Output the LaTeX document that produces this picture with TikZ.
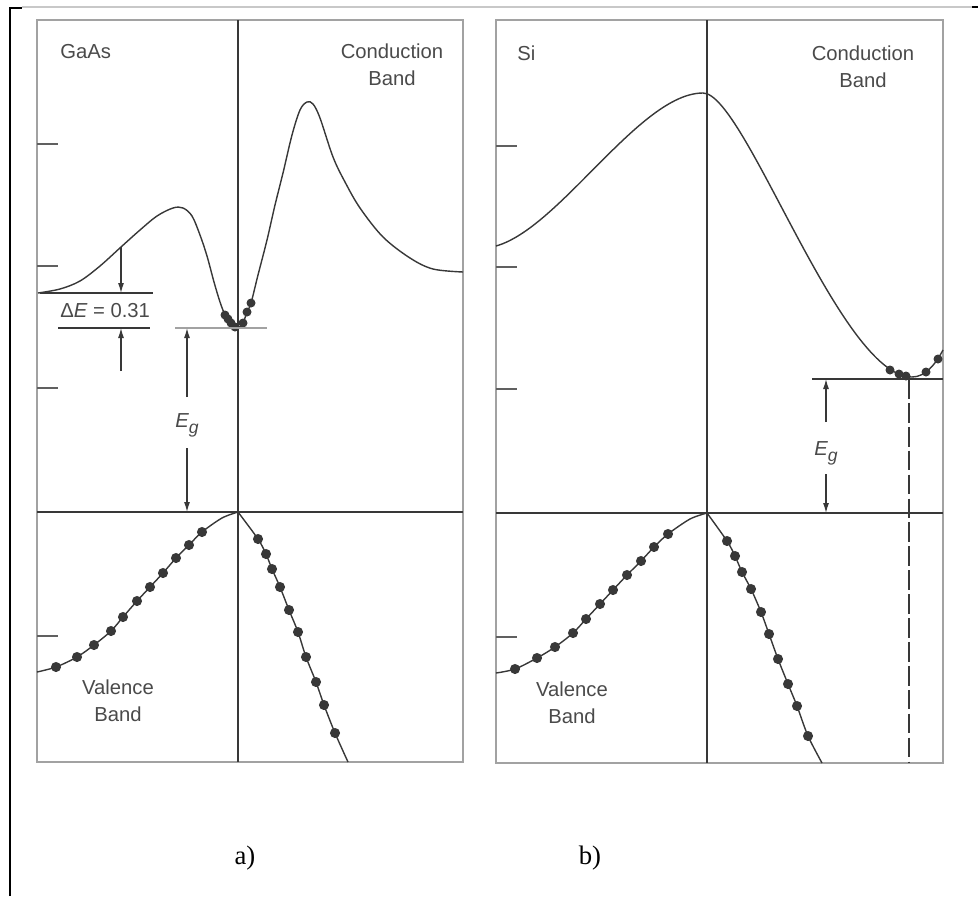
\documentclass[tikz,border=0pt]{standalone}
\usepackage{fontspec}
\setmainfont{Liberation Serif}
\newfontfamily\bandfont{Liberation Sans}
\usetikzlibrary{arrows.meta}
\definecolor{BandInk}{HTML}{383838}
\definecolor{LabelInk}{HTML}{4A4A4A}
\definecolor{FrameGray}{HTML}{A2A2A2}
\definecolor{RuleGray}{HTML}{C8C8C8}
\newcommand{\gapsym}{\textit{E}\kern-0.3pt\raisebox{-4.5pt}{\fontsize{12.5}{14}\selectfont\textit{g}}}
\tikzset{
  frame/.style={FrameGray,line width=1.6pt},
  levtick/.style={BandInk!80,line width=1pt},
  axis/.style={BandInk,line width=1.1pt},
  curve/.style={BandInk,line width=1pt},
  elec/.style={circle,fill=BandInk,inner sep=0pt,minimum size=7.2pt},
  lbl/.style={font=\bandfont\fontsize{14.4}{18.8}\selectfont,text=LabelInk,inner sep=0pt,align=center},
  gap/.style={-{Latex[length=2.5mm,width=1.5mm]},BandInk,line width=0.85pt},
  panel/.style={font=\fontsize{19}{22}\selectfont,inner sep=0pt}
}

\begin{document}
\begin{tikzpicture}[x=0.025cm,y=-0.025cm]
\useasboundingbox (0,0) rectangle (978,896);
% page rules
\draw[black,line width=2pt] (10,896)--(10,8)--(22,8);
\draw[RuleGray,line width=1.2pt] (22,7)--(972,7);
\draw[black,line width=2pt] (972,7)--(978,7);

% ---- a) GaAs
\draw[frame] (37,20) rectangle (463,762);
\foreach \y in {144,266,388,636} \draw[levtick] (37,\y)--(58,\y);
\draw[axis] (238,20)--(238,762);
\draw[axis] (37,512)--(463,512);
\node[lbl,anchor=base west] (gaas) at (60,58) {GaAs};
\node[lbl,anchor=base] (cba) at (392,85) {Conduction\\Band};
\node[lbl,anchor=base] (vba) at (118,721) {Valence\\Band};
\draw[curve] plot[smooth,tension=0.55] coordinates {(38,293) (60,289) (80,281) (100,266) (121,247) (140,230) (157,216) (173,208) (183,208) (192,216) (200,235) (207,256) (214,282) (220,302) (225,315) (228,319) (231,323) (235,327) (238,328) (243,323) (247,312) (251,303) (258,275) (267,240) (275,205) (283,173) (292,135) (300,110) (307,102) (313,104) (320,118) (333,157) (345,182) (360,208) (383,237) (410,258) (433,269) (463,272)};
\foreach \x/\y [count=\i] in {225/315,228/319,231/323,235/327,243/323,247/312,251/303}
  \node[elec,minimum size=6.4pt] (ca\i) at (\x,\y) {};
\draw[curve] plot[smooth,tension=0.5] coordinates {(37,672) (56,667) (77,657) (94,645) (111,631) (123,617) (137,601) (150,587) (163,573) (176,558) (189,545) (202,532) (222,518) (238,512)};
\draw[curve] plot[smooth,tension=0.5] coordinates {(238,512) (258,539) (266,554) (272,569) (280,587) (289,610) (298,632) (306,657) (316,682) (324,705) (335,733) (348,762)};
\foreach \x/\y [count=\i] in {56/667,77/657,94/645,111/631,123/617,137/601,150/587,163/573,176/558,189/545,202/532,258/539,266/554,272/569,280/587,289/610,298/632,306/657,316/682,324/705,335/733}
  \node[elec] (va\i) at (\x,\y) {};
% delta E
\draw[BandInk,line width=1.1pt] (40,293)--(153,293);
\draw[BandInk,line width=1.1pt] (58,328)--(150,328);
\node[lbl,anchor=base west] (de) at (60,317) {Δ\textit{E} = 0.31};
\coordinate (deT) at (121,247);
\coordinate (deU) at (121,293);
\coordinate (deL) at (121,328);
\coordinate (deB) at (121,371);
\draw[gap] (deT)--(deU);
\draw[gap] (deB)--(deL);
% gap a
\draw[FrameGray,line width=1.3pt] (175,328)--(267,328);
\node[lbl,anchor=base] (ega) at (187,427) {\gapsym};
\coordinate (egaT) at (187,328);
\coordinate (egaU) at (187,397);
\coordinate (egaD) at (187,448);
\coordinate (egaB) at (187,512);
\draw[gap] (egaU)--(egaT);
\draw[gap] (egaD)--(egaB);
\node[panel] (pa) at (245,858) {a)};

% ---- b) Si
\draw[frame] (496,20) rectangle (943,763);
\foreach \y in {146,267,389,637} \draw[levtick] (496,\y)--(517,\y);
\draw[axis] (707,20)--(707,763);
\draw[axis] (496,513)--(943,513);
\node[lbl,anchor=base west] (si) at (517,60) {Si};
\node[lbl,anchor=base] (cbb) at (863,87) {Conduction\\Band};
\node[lbl,anchor=base] (vbb) at (572,723) {Valence\\Band};
\draw[curve] (496,246) .. controls (560,228) and (640,93) .. (703,93)
  .. controls (745,93) and (840,377) .. (912,377)
  .. controls (925,377) and (935,365) .. (943,350);
\foreach \x/\y [count=\i] in {890/370,899/374,906/376,926/372,938/359}
  \node[elec,minimum size=6.4pt] (cb\i) at (\x,\y) {};
\draw[curve] plot[smooth,tension=0.5] coordinates {(496,673) (515,669) (537,658) (555,647) (573,633) (586,619) (600,604) (613,590) (627,575) (641,561) (654,547) (668,534) (690,519) (707,513)};
\draw[curve] plot[smooth,tension=0.5] coordinates {(707,513) (727,541) (735,556) (742,572) (751,589) (761,612) (769,634) (778,659) (788,684) (797,706) (808,736) (822,763)};
\foreach \x/\y [count=\i] in {515/669,537/658,555/647,573/633,586/619,600/604,613/590,627/575,641/561,654/547,668/534,727/541,735/556,742/572,751/589,761/612,769/634,778/659,788/684,797/706,808/736}
  \node[elec] (vb\i) at (\x,\y) {};
% gap b
\draw[BandInk,line width=1.1pt] (812,379)--(943,379);
\draw[BandInk,line width=1pt,dash pattern=on 14pt off 3pt] (909,379)--(909,763);
\node[lbl,anchor=base] (egb) at (826,455) {\gapsym};
\coordinate (egbT) at (826,379);
\coordinate (egbU) at (826,422);
\coordinate (egbD) at (826,474);
\coordinate (egbB) at (826,513);
\draw[gap] (egbU)--(egbT);
\draw[gap] (egbD)--(egbB);
\node[panel] (pb) at (590,858) {b)};
\end{tikzpicture}
\end{document}
